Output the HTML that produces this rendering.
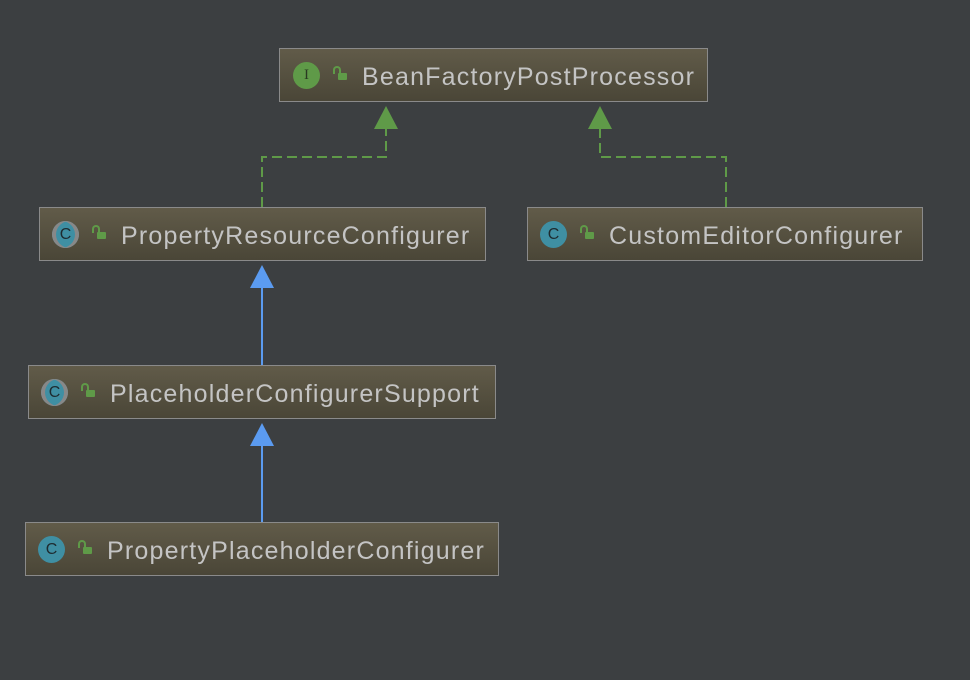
<!DOCTYPE html>
<html><head><style>
body{margin:0;width:970px;height:680px;background:#3c3f41;position:relative;overflow:hidden;font-family:"Liberation Sans",sans-serif}
.b{position:absolute;height:54px;border:1px solid #8a8a8a;background:linear-gradient(#615b49,#4a4637);box-sizing:border-box;color:#c4c4c4;font-size:25px;letter-spacing:1.2px;line-height:56px;white-space:nowrap}
.ic{position:absolute;top:13px;width:27px;height:27px;border-radius:50%;background:#3f8fa3;color:#1e2b30;font-size:16px;letter-spacing:0;line-height:27px;text-align:center}
.ic.g{background:#5f9a48;color:#2a3a22;font-family:"Liberation Serif",serif;font-size:15px}
.ic.a{box-shadow:inset 4px 0 0 #888,inset -4px 0 0 #888}
.lk{position:absolute;top:24px;width:9px;height:7px;background:#5f9a48;border-radius:1px}
.lk:before{content:"";position:absolute;left:-5px;top:-7px;width:4px;height:6px;border:2px solid #5f9a48;border-bottom:none;border-radius:4px 4px 0 0}
.t{position:absolute;top:0}
</style></head><body>
<svg width="970" height="680" style="position:absolute;left:0;top:0">
<g fill="none" stroke="#5f9a48" stroke-width="2" stroke-dasharray="10,5">
<path d="M262 207 V157 H386 V128"/>
<path d="M726 207 V157 H600 V128"/>
</g>
<polygon points="386,106 374,129 398,129" fill="#5f9a48"/>
<polygon points="600,106 588,129 612,129" fill="#5f9a48"/>
<g stroke="#5b9bf0" stroke-width="2"><line x1="262" y1="288" x2="262" y2="365"/><line x1="262" y1="446" x2="262" y2="522"/></g>
<polygon points="262,265 250,288 274,288" fill="#5b9bf0"/>
<polygon points="262,423 250,446 274,446" fill="#5b9bf0"/>
</svg>
<div class="b" style="left:279px;top:48px;width:429px"><div class="ic g" style="left:13px">I</div><div class="lk" style="left:58px"></div><span class="t" style="left:82px">BeanFactoryPostProcessor</span></div>
<div class="b" style="left:39px;top:207px;width:447px"><div class="ic a" style="left:12px">C</div><div class="lk" style="left:57px"></div><span class="t" style="left:81px">PropertyResourceConfigurer</span></div>
<div class="b" style="left:527px;top:207px;width:396px"><div class="ic" style="left:12px">C</div><div class="lk" style="left:57px"></div><span class="t" style="left:81px">CustomEditorConfigurer</span></div>
<div class="b" style="left:28px;top:365px;width:468px"><div class="ic a" style="left:12px">C</div><div class="lk" style="left:57px"></div><span class="t" style="left:81px">PlaceholderConfigurerSupport</span></div>
<div class="b" style="left:25px;top:522px;width:474px"><div class="ic" style="left:12px">C</div><div class="lk" style="left:57px"></div><span class="t" style="left:81px">PropertyPlaceholderConfigurer</span></div>
</body></html>
